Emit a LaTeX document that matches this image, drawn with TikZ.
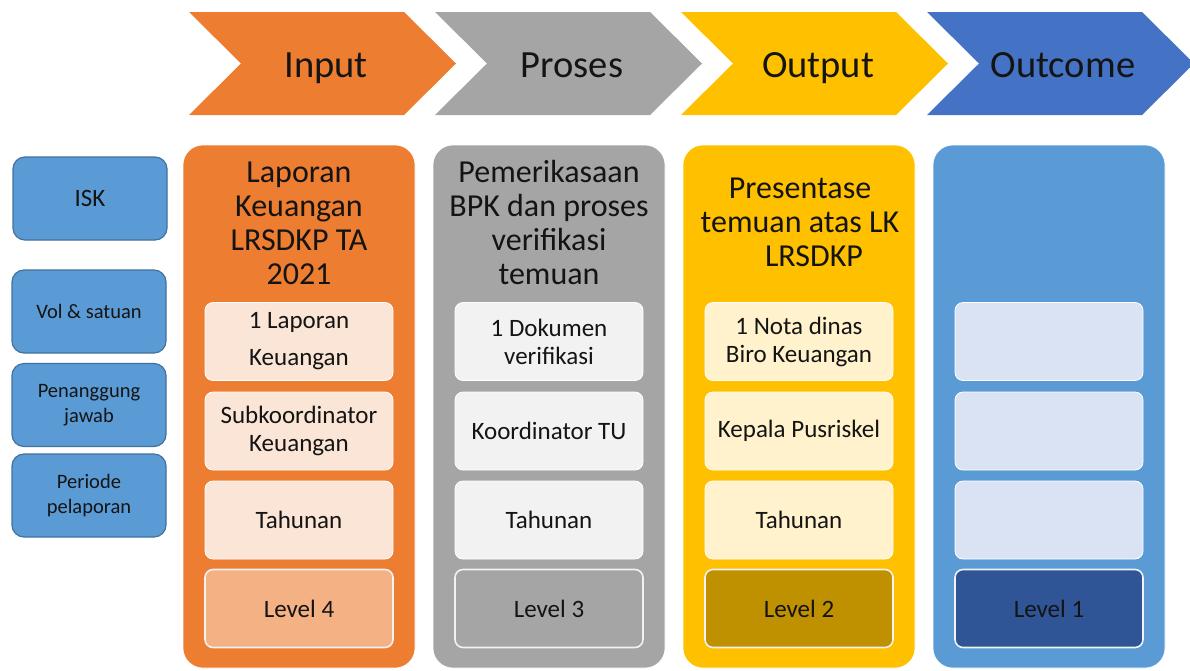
\documentclass[tikz,border=0pt]{standalone}
\usepackage{fontspec}
\setmainfont{Carlito}
\definecolor{cOr}{HTML}{ED7D31}
\definecolor{cOrL}{HTML}{FBE5D6}
\definecolor{cOrD}{HTML}{F4B183}
\definecolor{cGr}{HTML}{A5A5A5}
\definecolor{cGrL}{HTML}{F2F2F2}
\definecolor{cGrD}{HTML}{A5A5A5}
\definecolor{cYe}{HTML}{FFC000}
\definecolor{cYeL}{HTML}{FFF2CC}
\definecolor{cYeD}{HTML}{BF9000}
\definecolor{cBl}{HTML}{5B9BD5}
\definecolor{cBlL}{HTML}{DAE3F3}
\definecolor{cBlD}{HTML}{2F5597}
\definecolor{cChB}{HTML}{4472C4}
\definecolor{cLab}{HTML}{41719C}
\definecolor{cTxt}{HTML}{141414}
\tikzset{
  chevtext/.style={font=\fontsize{38.5}{42}\selectfont, text=cTxt, anchor=base, inner sep=0pt},
  colbox/.style={rounded corners=20pt, minimum width=232pt, minimum height=523pt, inner sep=0pt, draw=white, line width=0.6pt},
  coltitle/.style={anchor=base, inner sep=0pt, text=cTxt},
  cellbox/.style={rounded corners=8pt, minimum width=188pt, minimum height=78pt, inner sep=0pt, draw=white, line width=0.8pt, align=center, text=cTxt, font=\fontsize{25}{28}\selectfont},
  levelbox/.style={cellbox, draw=white!90!gray, line width=1.6pt},
  labbox/.style={rounded corners=12pt, fill=cBl, draw=cLab, line width=1.2pt, minimum width=154pt, minimum height=83pt, inner sep=0pt, align=center, text=cTxt, font=\fontsize{20.5}{25.5}\selectfont}
}
\newcommand{\chev}[3]{%
  \fill[#2] (#1,12) -- ({#1+215},12) -- ({#1+267},63.5) -- ({#1+215},115) -- (#1,115) -- ({#1+52},63.5) -- cycle;
}
\begin{document}
\begin{tikzpicture}[x=1pt,y=-1pt]
\useasboundingbox (0,0) rectangle (1190,670);
% chevrons
\chev{189}{cOr}{}
\chev{435}{cGr}{}
\chev{681}{cYe}{}
\chev{927}{cChB}{}
\node[chevtext] (hIn) at (326,77) {Input};
\node[chevtext] (hPr) at (572,77) {Proses};
\node[chevtext] (hOu) at (818,77) {Output};
\node[chevtext] (hOc) at (1063,77) {Outcome};
% left labels
\node[labbox, font=\fontsize{25}{28}\selectfont] (lISK) at (90,198.5) {ISK};
\node[labbox] (lVol) at (89,311.5) {Vol \& satuan};
\node[labbox] (lPJ) at (89,405) {Penanggung\\jawab};
\node[labbox] (lPer) at (89,495.5) {Periode\\pelaporan};
% columns
\node[colbox, fill=cOr] (cIn) at (299,406.5) {};
\node[colbox, fill=cGr] (cPr) at (549,406.5) {};
\node[colbox, fill=cYe] (cOu) at (799,406.5) {};
\node[colbox, fill=cBl] (cOc) at (1049,406.5) {};
% column titles
\node[coltitle] (tIn) at (299,182) {\fontsize{32}{34}\selectfont\begin{tabular}[t]{@{}c@{}}Laporan\\Keuangan\\LRSDKP TA\\2021\end{tabular}};
\node[coltitle] (tPr) at (549,182) {\fontsize{32}{34}\selectfont\begin{tabular}[t]{@{}c@{}}Pemerikasaan\\BPK dan proses\\verifikasi\\temuan\end{tabular}};
\node[coltitle] (tOu) at (800,198) {\fontsize{32}{34}\selectfont\begin{tabular}[t]{@{}c@{}}Presentase\\temuan atas LK\\\hspace*{28pt}LRSDKP\end{tabular}};
% input cells
\node[cellbox, fill=cOrL] (i1) at (299,341.5) {1 Laporan\\[9pt]Keuangan};
\node[cellbox, fill=cOrL] (i2) at (299,431) {Subkoordinator\\Keuangan};
\node[cellbox, fill=cOrL] (i3) at (299,520) {Tahunan};
\node[levelbox, fill=cOrD] (i4) at (299,608.5) {Level 4};
% proses cells
\node[cellbox, fill=cGrL] (p1) at (549,341.5) {1 Dokumen\\verifikasi};
\node[cellbox, fill=cGrL] (p2) at (549,431) {Koordinator TU};
\node[cellbox, fill=cGrL] (p3) at (549,520) {Tahunan};
\node[levelbox, fill=cGrD] (p4) at (549,608.5) {Level 3};
% output cells
\node[cellbox, fill=cYeL] (o1) at (799,341.5) {1 Nota dinas\\Biro Keuangan};
\node[cellbox, fill=cYeL] (o2) at (799,431) {Kepala Pusriskel};
\node[cellbox, fill=cYeL] (o3) at (799,520) {Tahunan};
\node[levelbox, fill=cYeD] (o4) at (799,608.5) {Level 2};
% outcome cells
\node[cellbox, fill=cBlL] (u1) at (1049,341.5) {};
\node[cellbox, fill=cBlL] (u2) at (1049,431) {};
\node[cellbox, fill=cBlL] (u3) at (1049,520) {};
\node[levelbox, fill=cBlD] (u4) at (1049,608.5) {Level 1};
\end{tikzpicture}
\end{document}
